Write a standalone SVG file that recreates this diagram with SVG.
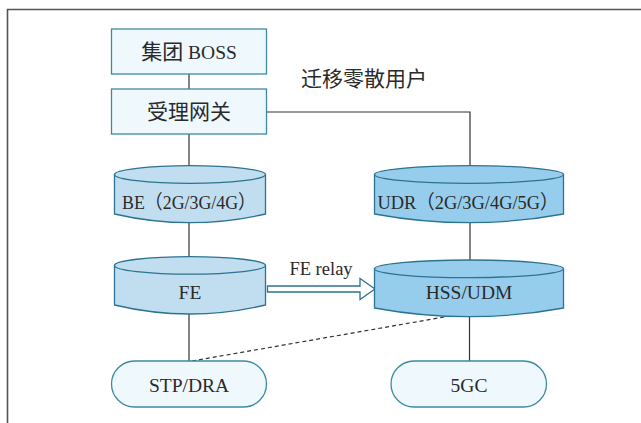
<svg xmlns="http://www.w3.org/2000/svg" width="641" height="423" viewBox="0 0 641 423">
<style>
  text { font-family: "Liberation Serif", "Noto Sans CJK SC", serif; font-size: 19.5px; fill: #2a2a2a; text-anchor: middle; }
  .cn { font-size: 21px; }
  .box { fill: #eef8fd; stroke: #3d8aa0; stroke-width: 1.3; }
  .cylL { fill: #c1def1; stroke: #2c7390; stroke-width: 1.3; }
  .cylD { fill: #97cdec; stroke: #2c7390; stroke-width: 1.3; }
  .ln { stroke: #333; stroke-width: 1.2; fill: none; }
  .dash { stroke: #333; stroke-width: 1.2; fill: none; stroke-dasharray: 4 3; }
  .frame { stroke: #555; stroke-width: 1.6; fill: none; }
</style>
<rect width="641" height="423" fill="#fff"/>
<path class="frame" d="M7.5,423 V9.5 H641"/>
<g id="connectors">
  <line class="ln" x1="189" y1="74" x2="189" y2="89"/>
  <line class="ln" x1="189" y1="134" x2="189" y2="166"/>
  <polyline class="ln" points="267,112 470,112 470,166"/>
  <line class="ln" x1="189" y1="222" x2="189" y2="257"/>
  <line class="ln" x1="470" y1="222" x2="470" y2="260"/>
  <line class="ln" x1="189" y1="314" x2="189" y2="361"/>
  <line class="ln" x1="469.5" y1="316" x2="469.5" y2="361"/>
  <line class="dash" x1="192" y1="361" x2="450" y2="316"/>
  <g id="fe-relay">
    <path d="M267.5,286 H360 V278.5 L375,289 L360,299.5 V292 H267.5 Z" fill="#fff" stroke="#2c7390" stroke-width="1.3"/>
    <text x="321" y="275" style="font-size:18.5px">FE relay</text>
  </g>
</g>
<g id="boss">
  <rect class="box" x="111.5" y="29" width="155" height="45"/>
  <text x="189" y="59"><tspan class="cn">集团</tspan> BOSS</text>
</g>
<g id="gateway">
  <rect class="box" x="111.5" y="89" width="155" height="45"/>
  <text class="cn" x="189" y="119">受理网关</text>
</g>
<g id="note">
  <text class="cn" x="364" y="86">迁移零散用户</text>
</g>
<g id="be">
  <path class="cylL" d="M114.5,174.5 V214 Q190,231.4 265.5,214 V174.5 Z"/>
  <ellipse class="cylL" cx="190" cy="174.5" rx="75.5" ry="8.8"/>
  <text x="189" y="209" textLength="134" lengthAdjust="spacingAndGlyphs">BE（2G/3G/4G）</text>
</g>
<g id="fe">
  <path class="cylL" d="M114.5,265.4 V305 Q190,323 265.5,305 V265.4 Z"/>
  <ellipse class="cylL" cx="190" cy="265.4" rx="75.5" ry="8.7"/>
  <text x="190" y="299">FE</text>
</g>
<g id="udr">
  <path class="cylD" d="M374.5,174.5 V214 Q469,231.4 563.5,214 V174.5 Z"/>
  <ellipse class="cylD" cx="469" cy="174.5" rx="94.5" ry="8.8"/>
  <text x="468" y="209" textLength="181" lengthAdjust="spacingAndGlyphs">UDR（2G/3G/4G/5G）</text>
</g>
<g id="hss">
  <path class="cylD" d="M374.5,268.8 V308 Q469,325.4 563.5,308 V268.8 Z"/>
  <ellipse class="cylD" cx="469" cy="268.8" rx="94.5" ry="8.8"/>
  <text x="469" y="299">HSS/UDM</text>
</g>
<g id="stp">
  <rect class="box" x="111.5" y="361" width="155" height="46" rx="23" ry="23"/>
  <text x="189" y="392">STP/DRA</text>
</g>
<g id="5gc">
  <rect class="box" x="391" y="361" width="155.5" height="46" rx="23" ry="23"/>
  <text x="469" y="392">5GC</text>
</g>
</svg>
